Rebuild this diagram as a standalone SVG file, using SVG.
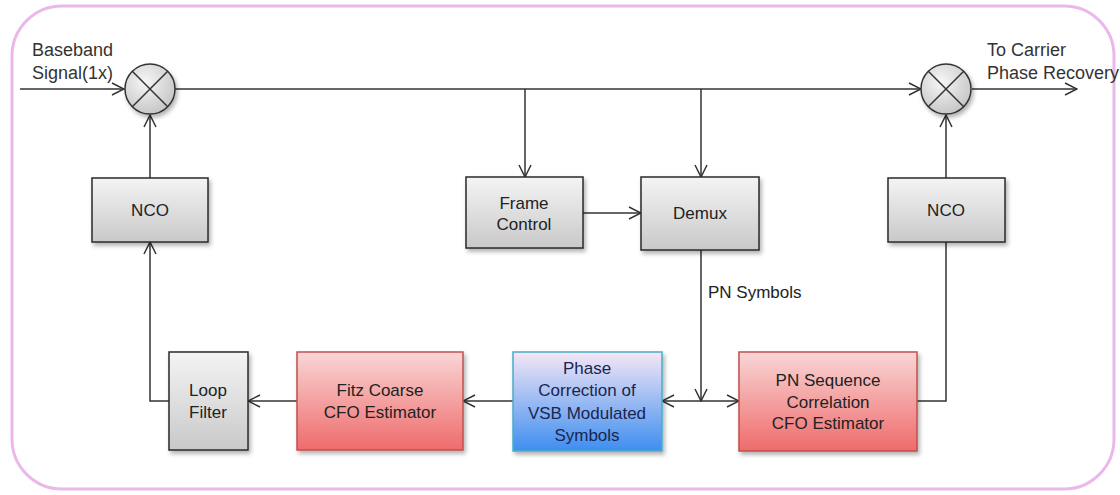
<svg xmlns="http://www.w3.org/2000/svg" width="1120" height="495" viewBox="0 0 1120 495">
<style>
text{font-family:"Liberation Sans",Arial,sans-serif;font-size:17px;fill:#222;}
.c{text-anchor:middle;}
.o{font-size:18px;fill:#333;}
.box{stroke:#2a2a2a;stroke-width:1.5;}
.gray{fill:url(#gGray);}
.red{fill:url(#gRed);stroke:#c0504d;stroke-width:1.5;}
.blue{fill:url(#gBlue);stroke:#4bacc6;stroke-width:1.5;}
.ln{fill:none;stroke:#333;stroke-width:1.5;}
.arr{marker-end:url(#ah);}
.mix{fill:url(#gMix);stroke:#333;stroke-width:1.5;}
</style>
<defs>
<linearGradient id="gGray" x1="0" y1="0" x2="0" y2="1"><stop offset="0" stop-color="#f4f4f4"/><stop offset="1" stop-color="#c9c9c9"/></linearGradient>
<linearGradient id="gRed" x1="0" y1="0" x2="0" y2="1"><stop offset="0" stop-color="#f9d6d6"/><stop offset="1" stop-color="#ef6b6b"/></linearGradient>
<linearGradient id="gBlue" x1="0" y1="0" x2="0" y2="1"><stop offset="0" stop-color="#f5e6f5"/><stop offset="1" stop-color="#3d8ef0"/></linearGradient>
<radialGradient id="gMix" cx="0.4" cy="0.35" r="0.7"><stop offset="0" stop-color="#f6f6f6"/><stop offset="1" stop-color="#c4c4c4"/></radialGradient>
<filter id="sh" x="-10%" y="-10%" width="125%" height="130%"><feDropShadow dx="2" dy="3" stdDeviation="2" flood-color="#000" flood-opacity="0.3"/></filter>
<marker id="ah" viewBox="0 0 14 14" refX="13" refY="7" markerWidth="14" markerHeight="14" markerUnits="userSpaceOnUse" orient="auto"><path d="M1,1 L13,7 L1,13" fill="none" stroke="#333" stroke-width="1.5"/></marker>
</defs>
<rect x="12" y="6" width="1102" height="483" rx="50" ry="50" fill="#fff" stroke="#eab8ea" stroke-width="3"/>
<g id="connectors">
<line class="ln arr" x1="20" y1="89" x2="124" y2="89"/>
<line class="ln arr" x1="175" y1="89" x2="921" y2="89"/>
<line class="ln arr" x1="972" y1="89" x2="1077" y2="89"/>
<line class="ln arr" x1="150" y1="178" x2="150" y2="115"/>
<line class="ln arr" x1="946" y1="178" x2="946" y2="115"/>
<line class="ln arr" x1="525" y1="89" x2="525" y2="177"/>
<line class="ln arr" x1="701" y1="89" x2="701" y2="177"/>
<line class="ln arr" x1="583" y1="213" x2="641" y2="213"/>
<line class="ln arr" x1="701" y1="250" x2="701" y2="401"/>
<line class="ln arr" x1="701" y1="401" x2="662" y2="401"/>
<line class="ln arr" x1="701" y1="401" x2="739" y2="401"/>
<polyline class="ln" points="917,401 946,401 946,242"/>
<line class="ln arr" x1="513" y1="401" x2="463" y2="401"/>
<line class="ln arr" x1="297" y1="401" x2="248" y2="401"/>
<polyline class="ln arr" points="169,401 150,401 150,242"/>
<text x="708" y="298">PN Symbols</text>
<text class="o" x="32" y="56">Baseband</text>
<text class="o" x="32" y="79">Signal(1x)</text>
<text class="o" x="987" y="56">To Carrier</text>
<text class="o" x="987" y="79">Phase Recovery</text>
</g>
<g id="mixer1">
<circle class="mix" cx="150" cy="89" r="25" filter="url(#sh)"/>
<line class="ln" x1="132.3" y1="71.3" x2="167.7" y2="106.7"/>
<line class="ln" x1="167.7" y1="71.3" x2="132.3" y2="106.7"/>
</g>
<g id="mixer2">
<circle class="mix" cx="946" cy="89" r="25" filter="url(#sh)"/>
<line class="ln" x1="928.3" y1="71.3" x2="963.7" y2="106.7"/>
<line class="ln" x1="963.7" y1="71.3" x2="928.3" y2="106.7"/>
</g>
<g id="nco1">
<rect class="box gray" x="92" y="178" width="116" height="64" filter="url(#sh)"/>
<text class="c" x="150" y="216">NCO</text>
</g>
<g id="frame-control">
<rect class="box gray" x="466" y="177" width="117" height="71" filter="url(#sh)"/>
<text class="c" x="524" y="209">Frame</text>
<text class="c" x="524" y="230">Control</text>
</g>
<g id="demux">
<rect class="box gray" x="641" y="177" width="118" height="73" filter="url(#sh)"/>
<text class="c" x="700" y="219">Demux</text>
</g>
<g id="nco2">
<rect class="box gray" x="888" y="178" width="117" height="64" filter="url(#sh)"/>
<text class="c" x="946" y="216">NCO</text>
</g>
<g id="loop-filter">
<rect class="box gray" x="169" y="352" width="79" height="98" filter="url(#sh)"/>
<text class="c" x="208" y="396">Loop</text>
<text class="c" x="208" y="418">Filter</text>
</g>
<g id="fitz">
<rect class="red" x="297" y="352" width="166" height="98" filter="url(#sh)"/>
<text class="c" x="380" y="396">Fitz Coarse</text>
<text class="c" x="380" y="418">CFO Estimator</text>
</g>
<g id="phase-correction">
<rect class="blue" x="513" y="352" width="149" height="99" filter="url(#sh)"/>
<text class="c" x="587" y="374" style="fill:#1a2550">Phase</text>
<text class="c" x="587" y="396" style="fill:#1a2550">Correction of</text>
<text class="c" x="587" y="419" style="fill:#1a2550">VSB Modulated</text>
<text class="c" x="587" y="441" style="fill:#1a2550">Symbols</text>
</g>
<g id="pn-correlation">
<rect class="red" x="739" y="352" width="178" height="99" filter="url(#sh)"/>
<text class="c" x="828" y="386">PN Sequence</text>
<text class="c" x="828" y="408">Correlation</text>
<text class="c" x="828" y="429">CFO Estimator</text>
</g>
</svg>
